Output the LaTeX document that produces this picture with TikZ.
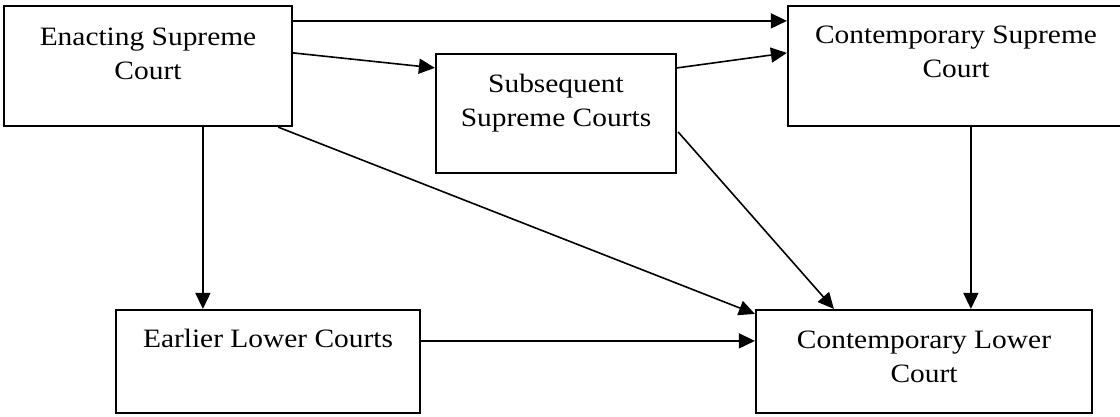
\documentclass[tikz,border=0pt]{standalone}
\usepackage{fontspec}
\setmainfont[FakeStretch=1.11]{Liberation Serif}
\usetikzlibrary{arrows.meta,calc}
\tikzset{
  box/.style={draw, line width=2.2pt, inner sep=0pt, minimum width=#1},
  txt/.style={anchor=north, inner sep=0pt, align=center, font=\fontsize{26.5}{34}\selectfont},
  arr/.style={line width=1.6pt, -{Triangle[length=16pt,width=15pt]}},
}
\begin{document}
\begin{tikzpicture}[x=1pt,y=-1pt]
\useasboundingbox (0,0) rectangle (1120,416);
% boxes
\node[box=288, minimum height=120] (ena) at (148,66) {};
\node[box=240, minimum height=119] (sub) at (556,113.5) {};
\node[box=336, minimum height=120] (csup) at (956,66) {};
\node[box=304, minimum height=103] (elc) at (268,361.5) {};
\node[box=336, minimum height=103] (clc) at (924,361.5) {};
% texts
\node[txt] (enat) at (148,21.2) {\strut Enacting Supreme\\Court};
\node[txt] (subt) at (556,68.2) {\strut Subsequent\\Supreme Courts};
\node[txt] (csupt) at (956,19.7) {\strut Contemporary Supreme\\Court};
\node[txt] (elct) at (268,323.2) {\strut Earlier Lower Courts};
\node[txt] (clct) at (924,324.2) {\strut Contemporary Lower\\Court};
% connectors
\draw[arr] ($(ena.north east)+(0,16)$) -- ($(csup.north west)+(0,16)$);
\draw[arr] ($(ena.north east)+(0,48)$) -- ($(sub.north west)+(0,15)$);
\draw[arr] ($(sub.north east)+(0,15)$) -- ($(csup.north west)+(0,48)$);
\draw[arr] ($(ena.south west)+(200,0)$) -- ($(elc.north west)+(88,0)$);
\draw[arr] ($(ena.south east)+(-15,0)$) -- ($(clc.north west)+(0,5)$);
\draw[arr] ($(sub.north east)+(1,79)$) -- ($(clc.north west)+(79,0)$);
\draw[arr] ($(csup.south west)+(184,0)$) -- ($(clc.north west)+(216,0)$);
\draw[arr] ($(elc.north east)+(0,32)$) -- ($(clc.north west)+(0,32)$);
\end{tikzpicture}
\end{document}
